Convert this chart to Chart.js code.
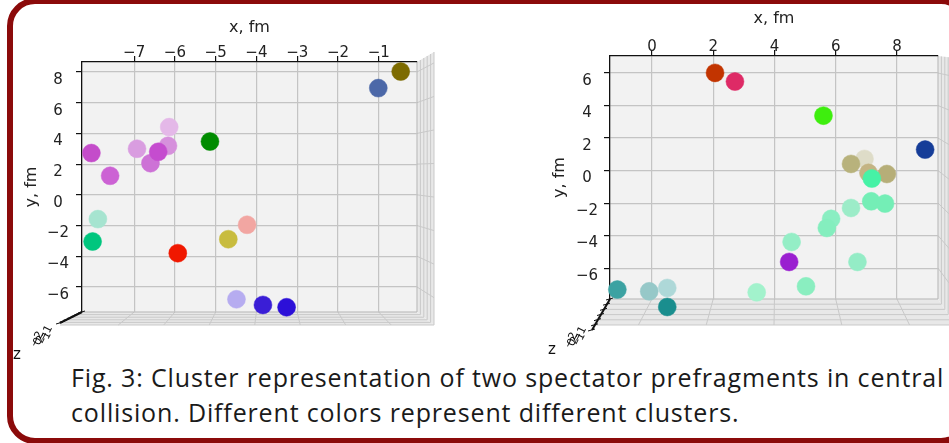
<!DOCTYPE html>
<html>
<head>
<meta charset="utf-8">
<script src="https://cdn.jsdelivr.net/npm/chart.js@4.4.1/dist/chart.umd.min.js"></script>
<style>
  html, body { margin:0; padding:0; background:#fff; }
  body { width:949px; height:443px; position:relative; overflow:hidden; }
  .frame { position:absolute; left:7px; top:-2px; width:962px; height:446px; box-sizing:border-box;
           border:6px solid #8b0a0a; border-radius:28px; }
  #leftChart { position:absolute; left:0; top:0; }
  #rightChart { position:absolute; left:475px; top:0; }
  .caption { position:absolute; left:71px; top:360px; font-family:'Open Sans', Lato, sans-serif;
             font-size:25px; letter-spacing:0.85px; line-height:35px; color:#1a1a1a; white-space:nowrap; }
</style>
</head>
<body>
<div class="frame"></div>
<canvas id="leftChart" width="475" height="360"></canvas>
<canvas id="rightChart" width="474" height="360"></canvas>
<div class="caption">Fig. 3: Cluster representation of two spectator prefragments in central<br>collision. Different colors represent different clusters.</div>
<script>
// left prefragment (x, y in fm), one colour per point
const leftX = [-0.46, -1.01, -6.14, -6.17, -6.93, -6.60, -6.41, -8.05, -7.59, -5.14, -7.89, -8.02, -5.93, -4.69, -4.23, -4.49, -3.84, -3.26];
const leftY = [8.03, 6.95, 4.41, 3.19, 3.00, 2.06, 2.80, 2.72, 1.24, 3.47, -1.58, -3.04, -3.80, -2.89, -1.95, -6.80, -7.17, -7.32];
const leftColors = ['#7d6b00','#4c68a8','#e4b8e8','#d690dc','#d99de0','#cd72d6','#c54ccf','#c44cca','#cc62d4',
  '#008c00','#a6e4d0','#00c67e','#f01800','#c8bc3e','#f2a6a2','#b6acf0','#3a1ed6','#2c10d8'];
const leftXTicks = [-7, -6, -5, -4, -3, -2, -1];
const leftYTicks = [8, 6, 4, 2, 0, -2, -4, -6];

// right prefragment
const rightX = [2.06, 2.71, 5.60, 8.92, 6.94, 6.50, 7.07, 7.67, 7.18, 7.16, 7.61, 6.50, 5.85, 5.71, 4.56, 4.48, 6.71, 5.03, 3.42, -1.13, -0.09, 0.50, 0.50];
const rightY = [6.01, 5.48, 3.38, 1.29, 0.72, 0.41, -0.14, -0.21, -0.49, -1.89, -2.03, -2.30, -2.97, -3.53, -4.39, -5.62, -5.62, -7.12, -7.49, -7.32, -7.43, -7.22, -8.39];
const rightColors = ['#c23400','#de2a66','#3eee0e','#163d98','#dedcc8','#b8b27c','#c4b484','#b6ae78','#46f2a6',
  '#74eeb6','#74eeb6','#9cecc8','#8aeec2','#84eebe','#94eec6','#9a20d0','#94ecc6','#8aeec0','#a2f2cc',
  '#3ca2a2','#96c8c8','#aed8d8','#1a8e8e'];
const rightXTicks = [0, 2, 4, 6, 8];
const rightYTicks = [6, 4, 2, 0, -2, -4, -6];

const zTicks = ['\u22122', '0', '2', '\u22121', '1'];

const fmt = v => v < 0 ? '\u2212' + Math.abs(v) : String(v);

// back pane, side wall and floor of the 3d box, plus the squashed z axis
const pane3d = {
  id: 'pane3d',
  beforeDraw(chart, args, o) {
    const { ctx, chartArea: a, scales } = chart;
    const L = a.left, R = a.right, T = a.top, B = a.bottom;
    const line = (x1, y1, x2, y2) => { ctx.beginPath(); ctx.moveTo(x1, y1); ctx.lineTo(x2, y2); ctx.stroke(); };
    ctx.save();
    ctx.fillStyle = '#e8e8e8';
    ctx.beginPath(); ctx.moveTo(L, B); ctx.lineTo(R, B); ctx.lineTo(R + o.wall, B + o.floor); ctx.lineTo(L - o.shift, B + o.floor); ctx.closePath(); ctx.fill();
    ctx.beginPath(); ctx.moveTo(R, T); ctx.lineTo(R + o.wall, T + o.wallTop); ctx.lineTo(R + o.wall, B + o.floor); ctx.lineTo(R, B); ctx.closePath(); ctx.fill();
    ctx.fillStyle = '#f2f2f2';
    ctx.fillRect(L, T, R - L, B - T);
    ctx.strokeStyle = '#c9c9c9'; ctx.lineWidth = 1;
    const fx = x => L - o.shift + (x - L) * (R + o.wall - L + o.shift) / (R - L);
    scales.x.ticks.forEach(t => { const x = scales.x.getPixelForValue(t.value); line(x, B, fx(x), B + o.floor); });
    const wy = y => T + o.wallTop + (y - T) * (B + o.floor - T - o.wallTop) / (B - T);
    scales.y.ticks.forEach(t => { const y = scales.y.getPixelForValue(t.value); line(R, y, R + o.wall, wy(y)); });
    for (let k = 1; k <= 5; k++) {
      const f = k / 5;
      line(L - o.shift * f, B + o.floor * f, R + o.wall * f, B + o.floor * f);
      line(R + o.wall * f, T + o.wallTop * f, R + o.wall * f, B + o.floor * f);
    }
    ctx.strokeStyle = '#b5b5b5';
    line(R, T, R, B); line(L, B, R, B);
    ctx.restore();
  },
  afterDraw(chart, args, o) {
    const { ctx, chartArea: a } = chart;
    const L = a.left, B = a.bottom;
    ctx.save();
    ctx.strokeStyle = '#111'; ctx.lineWidth = 2;
    ctx.beginPath(); ctx.moveTo(L, B); ctx.lineTo(L + o.zAxis[0], B + o.zAxis[1]); ctx.stroke();
    ctx.lineWidth = 1;
    for (let k = 0; k <= 6; k++) {
      const f = k / 6, px = L + o.zAxis[0] * f, py = B + o.zAxis[1] * f;
      ctx.beginPath(); ctx.moveTo(px - 4, py + 1); ctx.lineTo(px + 3, py - 1); ctx.stroke();
    }
    ctx.fillStyle = '#111';
    ctx.font = '11px "DejaVu Sans"';
    zTicks.forEach((s, i) => {
      ctx.save();
      ctx.translate(L + o.zLab[0] + i * 3, B + o.zLab[1] - i * 2);
      ctx.rotate(-1.1);
      ctx.fillText(s, 0, 0);
      ctx.restore();
    });
    ctx.font = '15px "DejaVu Sans"';
    ctx.fillText('z', L + o.zText[0], B + o.zText[1]);
    ctx.restore();
  }
};

function makeScatter(id, xs, ys, colors, xRange, yRange, xTicks, yTicks, g) {
  const pts = xs.map((x, i) => ({ x, y: ys[i] }));
  const tickFont = { family: 'DejaVu Sans', size: 15 };
  const titleFont = { family: 'DejaVu Sans', size: 16 };
  return new Chart(document.getElementById(id), {
    type: 'scatter',
    data: { datasets: [{ data: pts, backgroundColor: colors, borderColor: colors, borderWidth: 0.5,
      pointRadius: 9, pointHoverRadius: 9, clip: false }] },
    options: {
      responsive: false, animation: false, devicePixelRatio: 1,
      events: [],
      layout: { padding: { left: 0, top: 0, right: g.padRight, bottom: g.padBottom } },
      plugins: { legend: { display: false }, tooltip: { enabled: false }, pane3d: g.pane },
      scales: {
        x: {
          type: 'linear', position: 'top', min: xRange[0], max: xRange[1],
          afterBuildTicks: s => { s.ticks = xTicks.map(v => ({ value: v })); },
          afterFit: s => { s.height = g.xHeight; },
          ticks: { font: tickFont, color: '#222', padding: -6, callback: fmt, maxRotation: 0, autoSkip: false },
          grid: { color: '#c4c4c4', lineWidth: 1.2, tickLength: 6, tickColor: '#111', tickWidth: 1.2 },
          border: { display: true, color: '#111', width: 1.3 },
          title: { display: true, text: 'x, fm', font: titleFont, color: '#222', padding: { top: g.xTitle, bottom: 0 } }
        },
        y: {
          type: 'linear', position: 'left', min: yRange[0], max: yRange[1],
          afterBuildTicks: s => { s.ticks = yTicks.map(v => ({ value: v })); },
          afterFit: s => { s.width = g.yWidth; },
          ticks: { font: tickFont, color: '#222', padding: g.yPad, callback: fmt, crossAlign: 'center', labelOffset: 8, autoSkip: false },
          grid: { color: '#c4c4c4', lineWidth: 1.2, tickLength: 6, tickColor: '#111', tickWidth: 1.2 },
          border: { display: true, color: '#111', width: 1.3 },
          title: { display: true, text: 'y, fm', font: titleFont, color: '#222', padding: { top: g.yTitle, bottom: 0 } }
        }
      }
    },
    plugins: [pane3d]
  });
}

makeScatter('leftChart', leftX, leftY, leftColors, [-8.28, -0.06], [-7.63, 8.65], leftXTicks, leftYTicks, {
  padRight: 58, padBottom: 48, xHeight: 62, yWidth: 82, xTitle: 18, yTitle: 22, yPad: 7,
  pane: { wall: 17, wallTop: -10, floor: 13, shift: 22, zAxis: [-22, 11], zLab: [-46, 36], zText: [-69, 47] }
});
makeScatter('rightChart', rightX, rightY, rightColors, [-1.37, 9.34], [-7.9, 7.05], rightXTicks, rightYTicks, {
  padRight: 11, padBottom: 61, xHeight: 56, yWidth: 135, xTitle: 9, yTitle: 75, yPad: 6,
  pane: { wall: 17, wallTop: 2, floor: 26, shift: 18, zAxis: [-18, 31], zLab: [-40, 50], zText: [-62, 55] }
});
</script>
</body>
</html>
